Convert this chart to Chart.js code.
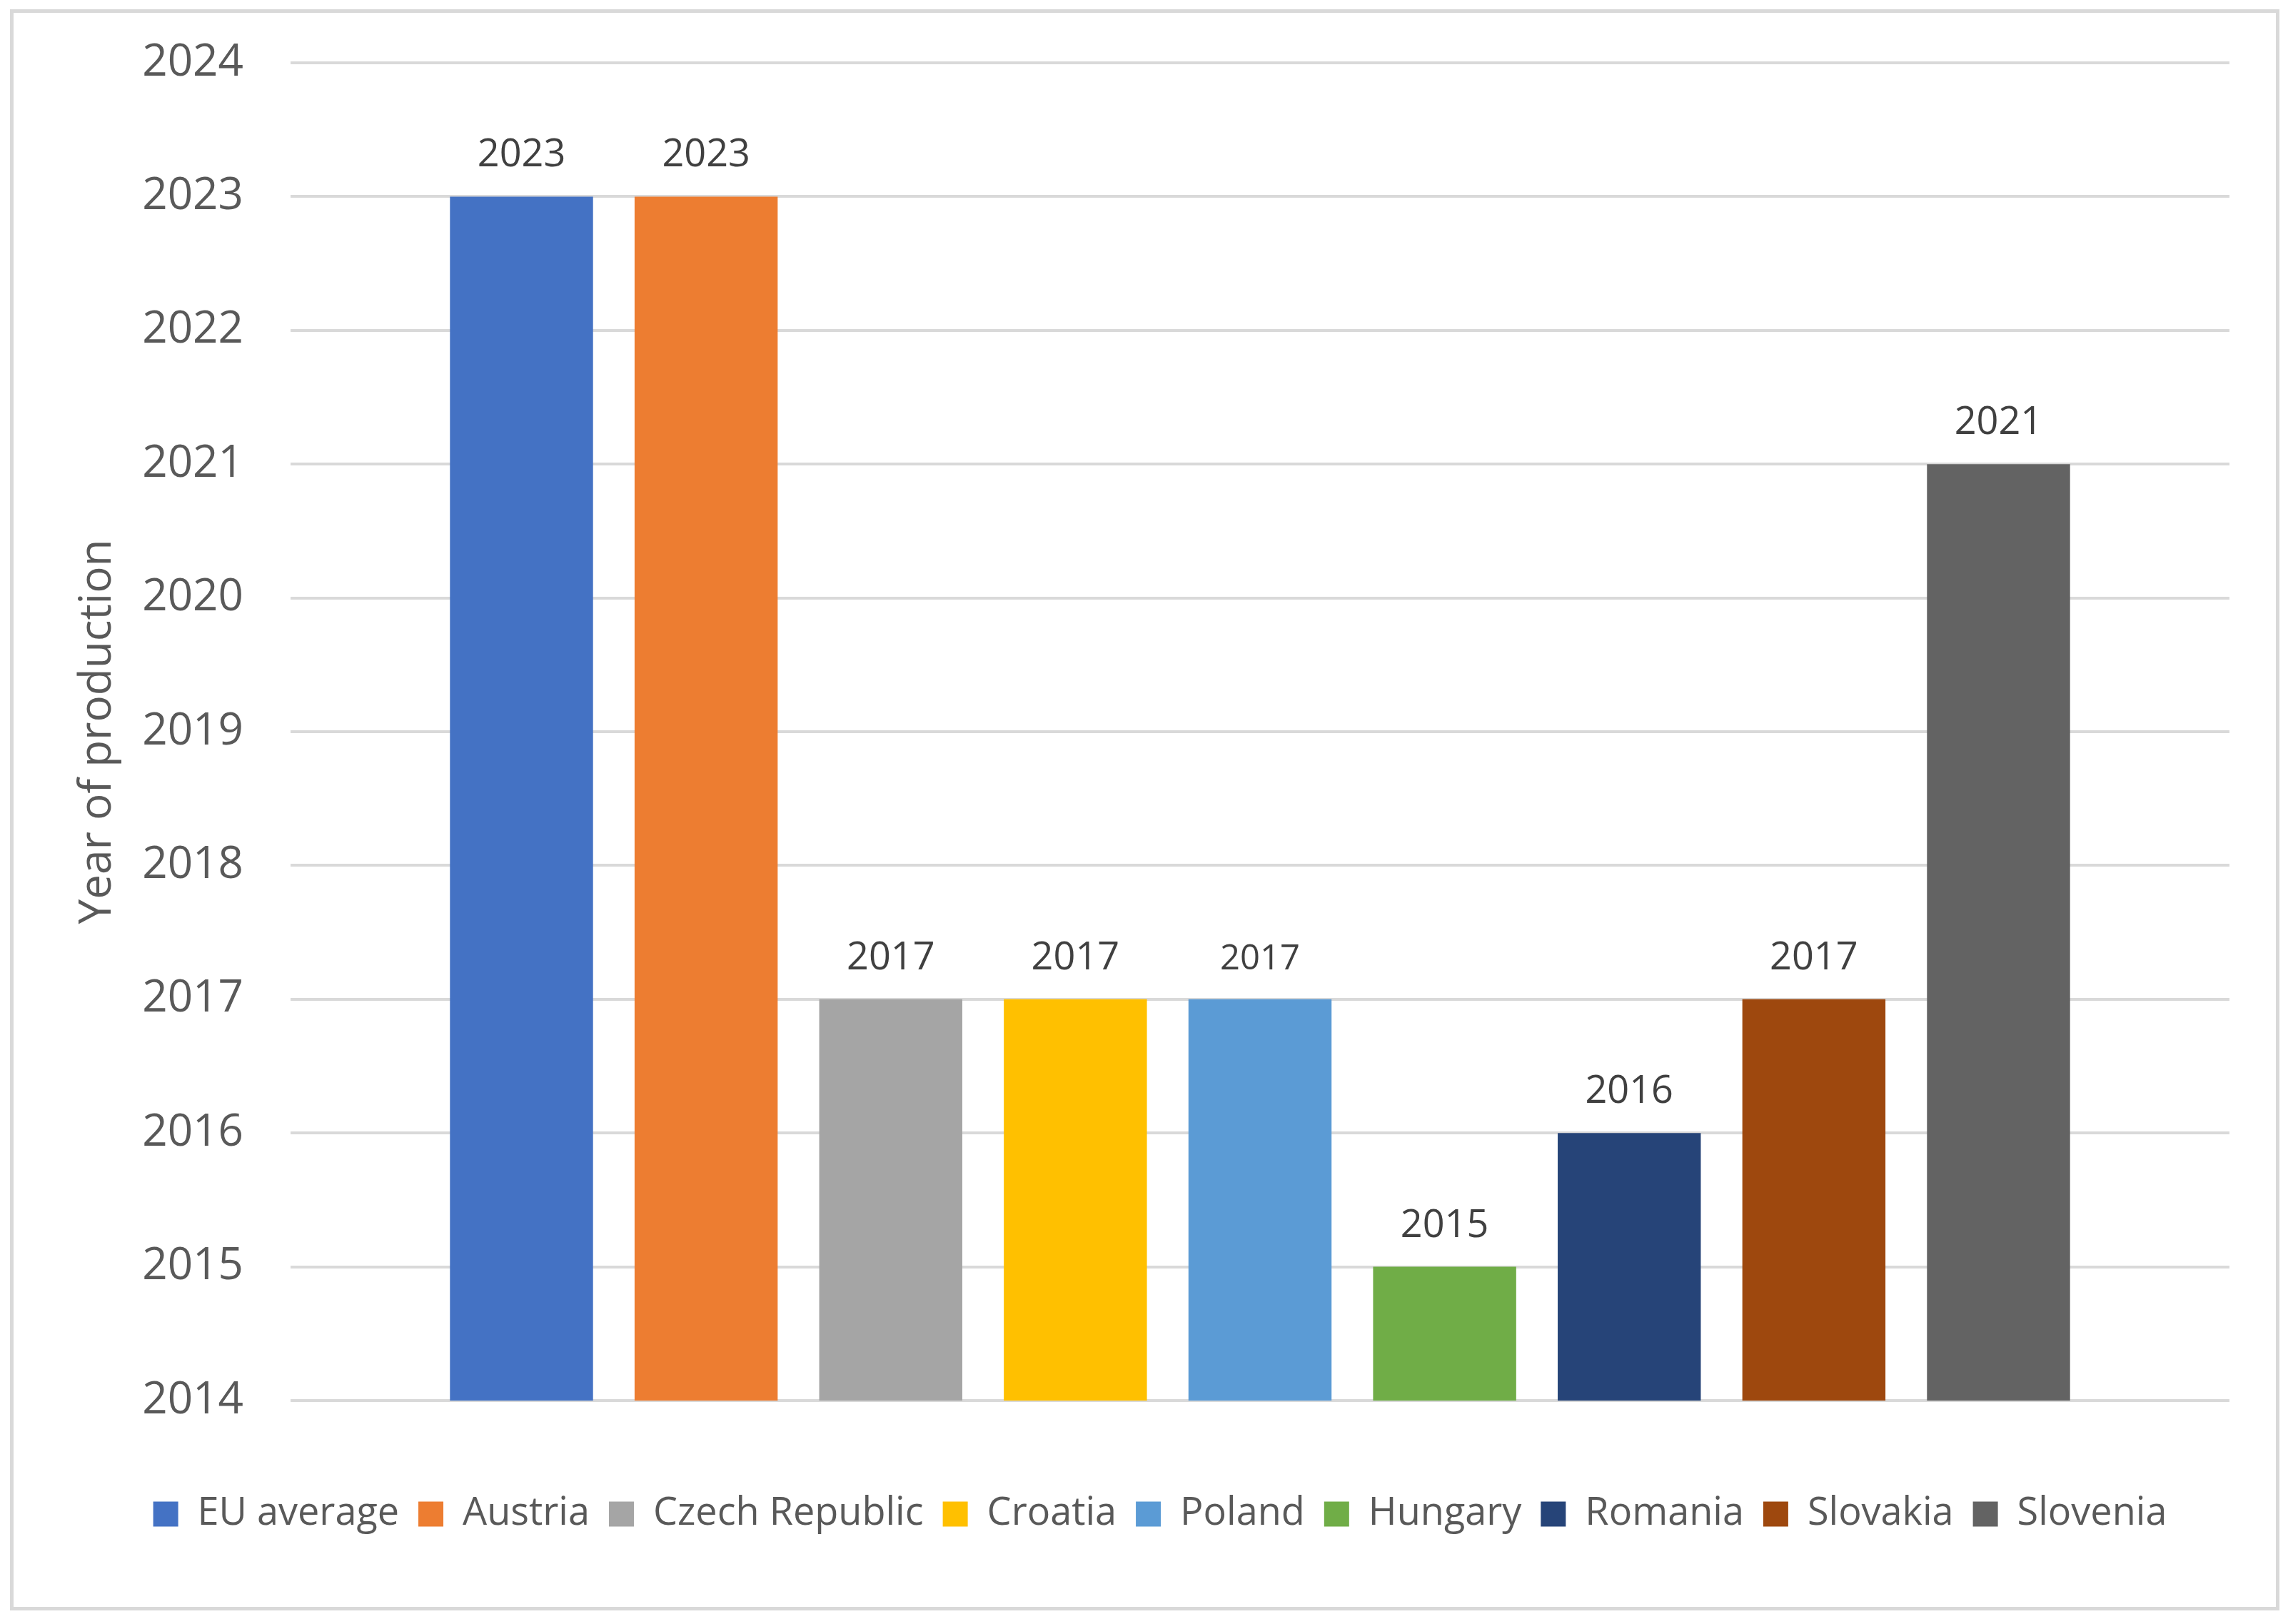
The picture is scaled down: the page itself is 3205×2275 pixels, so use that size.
<!DOCTYPE html>
<html>
<head>
<meta charset="utf-8">
<script src="https://cdn.jsdelivr.net/npm/chart.js@4/dist/chart.umd.min.js"></script>
<style>
  html, body { margin: 0; padding: 0; background: #ffffff; }
  canvas { display: block; }
</style>
</head>
<body>
<canvas id="chart" width="3205" height="2275"></canvas>
<script>
const countries = ['EU average', 'Austria', 'Czech Republic', 'Croatia', 'Poland', 'Hungary', 'Romania', 'Slovakia', 'Slovenia'];
const years = [2023, 2023, 2017, 2017, 2017, 2015, 2016, 2017, 2021];
const colors = ['#4472C4', '#ED7D31', '#A5A5A5', '#FFC000', '#5B9BD5', '#70AD47', '#264478', '#9E480E', '#636363'];
const yMin = 2014;
const yMax = 2024;

const FONT = "'Open Sans', 'Noto Sans', sans-serif";
const padLeft = 127;

// frame round the whole chart, white background
const framePlugin = {
    id: 'frame',
    beforeDraw(chart) {
        const ctx = chart.ctx;
        ctx.save();
        ctx.fillStyle = '#ffffff';
        ctx.fillRect(0, 0, chart.width, chart.height);
        ctx.strokeStyle = '#d9d9d9';
        ctx.lineWidth = 5;
        ctx.strokeRect(16.5, 15.5, 3174, 2238);
        ctx.restore();
    }
};

// value labels on top of each bar
const valueLabels = {
    id: 'valueLabels',
    afterDatasetsDraw(chart) {
        const ctx = chart.ctx;
        ctx.save();
        ctx.fillStyle = '#404040';
        ctx.textAlign = 'center';
        ctx.textBaseline = 'alphabetic';
        chart.data.datasets.forEach((ds, i) => {
            const meta = chart.getDatasetMeta(i);
            meta.data.forEach((bar, j) => {
                ctx.font = `${ds.labelSize}px ${FONT}`;
                ctx.fillText(String(ds.data[j]), bar.x, bar.y - 42);
            });
        });
        ctx.restore();
    }
};

const datasets = countries.map((name, i) => ({
    label: name,
    data: [years[i]],
    backgroundColor: colors[i],
    borderWidth: 0,
    categoryPercentage: 0.857,
    barPercentage: 0.775,
    labelSize: name === 'Poland' ? 49 : 54
}));

new Chart(document.getElementById('chart'), {
    type: 'bar',
    data: {
        labels: [''],
        datasets: datasets
    },
    options: {
        responsive: false,
        devicePixelRatio: 1,
        animation: false,
        layout: {
            padding: { left: padLeft, right: 82, top: 88, bottom: 117 }
        },
        plugins: {
            legend: {
                position: 'bottom',
                labels: {
                    color: '#595959',
                    boxWidth: 35,
                    boxHeight: 35,
                    padding: 27,
                    font: { family: FONT, size: 54 }
                }
            },
            tooltip: { enabled: false }
        },
        scales: {
            x: {
                grid: { display: false },
                border: { display: false },
                ticks: { display: false },
                afterFit(scale) { scale.height = 105; }
            },
            y: {
                min: yMin,
                max: yMax,
                ticks: {
                    stepSize: 1,
                    padding: 66,
                    color: '#595959',
                    font: { family: FONT, size: 62 },
                    callback: v => String(v)
                },
                grid: {
                    color: '#d9d9d9',
                    lineWidth: 4,
                    drawTicks: false
                },
                border: { display: false },
                title: {
                    display: true,
                    text: 'Year of production',
                    color: '#595959',
                    font: { family: FONT, size: 62 },
                    padding: { top: 100 - padLeft, bottom: 0 }
                },
                afterFit(scale) {
                    scale.width = 407 - padLeft;
                    scale.paddingTop = 40;
                    scale.paddingBottom = 40;
                }
            }
        }
    },
    plugins: [framePlugin, valueLabels]
});
</script>
</body>
</html>
